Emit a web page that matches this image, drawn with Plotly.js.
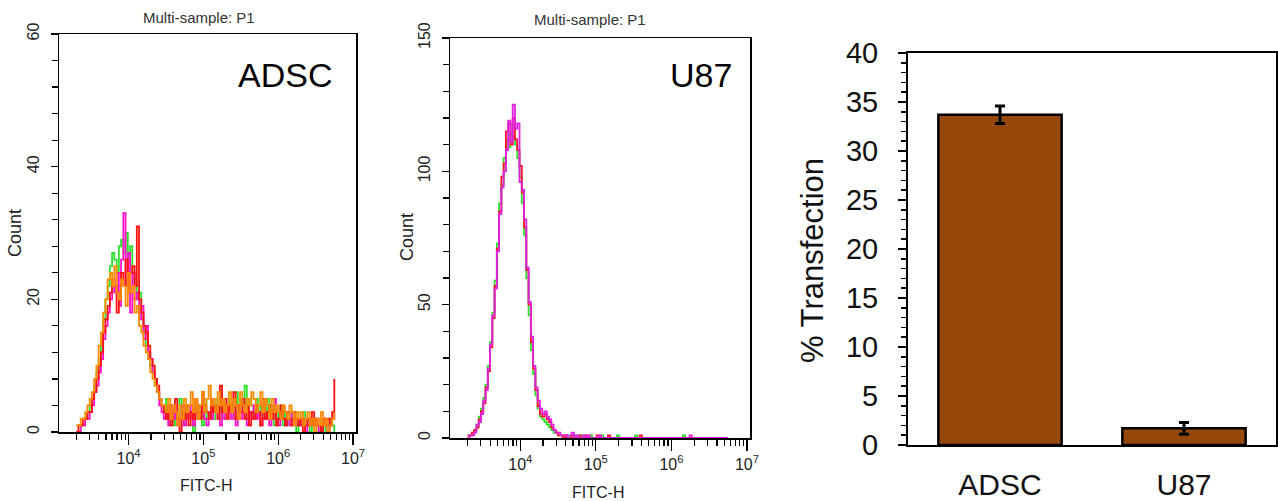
<!DOCTYPE html>
<html>
<head>
<meta charset="utf-8">
<script src="https://cdn.plot.ly/plotly-3.0.1.min.js"></script>
<style>
  html, body { margin: 0; padding: 0; background: #ffffff; }
  #chart { width: 1278px; height: 501px; }
</style>
</head>
<body>
<div id="chart"></div>
<script>
// ---------------- DATA ----------------
// Histogram bins: uniform in log10(FITC-H), starting at 10^3.30, step 0.03 decades
const logBinStart = 3.30;
const logBinStep = 0.03;

// ADSC overlaid sample histograms (counts per bin)
const adscGreen = [
  0,0,1,1,2,3,4,5,7,9, 11,14,17,20,22,25,27,26,24,28, 29,27,30,26,28,24,23,20,21,17, 15,13,12,10,9,7,6,5,4,
  3,5,2,4,1,3,2,5,3,1, 4,2,3,0,2,4,3,1,5,2, 3,4,2,5,3,6,2,4,3,5, 4,2,6,3,5,4,7,3,5,4,
  2,5,3,4,2,3,5,2,4,1, 3,2,4,1,3,2,1,3,2,0, 2,1,3,1,2,0,1,2,1,0, 2,1,0,1,2,1,0
];
const adscMagenta = [
  0,0,1,1,2,2,3,4,6,7, 9,11,14,16,18,20,22,21,24,19, 26,33,22,27,18,24,20,21,17,19, 14,16,12,11,9,8,6,4,3,
  2,3,1,4,2,3,1,2,4,1, 3,2,4,1,3,2,4,3,2,1, 3,2,4,3,2,1,3,2,4,3, 2,3,1,4,2,3,2,1,3,2,
  4,2,3,1,2,3,2,1,3,5, 2,1,3,2,1,2,1,3,2,1, 2,1,2,0,1,2,1,2,1,0, 1,2,1,0,1,2,3
];
const adscRed = [
  0,1,1,2,2,3,3,5,6,8, 10,12,15,17,19,21,23,22,18,20, 24,22,26,21,24,25,22,31,20,18, 16,15,13,11,10,8,7,5,4,
  3,2,4,1,3,5,2,0,3,2, 4,1,3,2,5,3,2,6,4,3, 2,5,3,4,2,7,3,5,2,4, 3,6,2,4,3,5,2,4,1,3,
  2,4,3,1,5,2,3,4,2,3, 1,2,4,2,1,3,2,1,3,2, 1,2,0,1,2,1,3,1,2,1, 0,2,1,2,1,3,8
];
const adscOrange = [
  1,1,2,2,3,4,5,6,8,10, 13,15,18,20,23,24,22,25,21,20, 23,22,19,24,21,22,18,19,16,15, 13,12,11,9,8,7,6,5,4,
  4,3,5,2,4,3,1,4,2,5, 3,4,6,3,5,2,4,6,3,5, 7,4,5,3,6,4,5,3,4,6, 3,5,4,2,6,4,3,5,4,6,
  5,3,4,6,3,5,4,2,5,3, 4,3,2,4,3,2,4,3,1,3, 2,3,1,2,3,1,2,0,2,1, 3,1,2,0,1,2,3
];

// U87 overlaid sample histograms (counts per bin)
const u87Green = [
  0,1,2,3,5,8,11,15,20,27, 36,47,59,73,88,95,105,112,109,114, 113,110,105,98,88,76,60,46,33,24, 16,11,8,7,6,5,4,3,2,2, 1,1,
  1,0,1,0,0,1,0,0,1,0, 0,0,1,0,0,0,0,1,0,0, 0,0,0,0,1,0,0,0,0,0, 0,0,1,0,0,0,0,0,0,0,
  0,0,0,0,0,0,0,0,0,0, 0,0,0,1,0,0,0,0,0,0, 0,0,0,0,0,0,0,0,0,0, 0,0,0,0
];
const u87Red = [
  1,1,2,3,4,7,10,13,19,25, 34,45,57,71,85,98,103,115,118,110, 120,112,108,102,92,79,63,50,36,26, 18,12,9,8,9,7,6,4,3,2, 1,1,
  0,1,0,0,1,0,0,1,0,0, 1,0,0,0,0,1,0,0,0,0, 1,0,0,0,0,0,0,0,0,0, 0,0,0,0,1,0,0,0,0,0,
  0,0,0,0,0,0,0,0,0,0, 0,0,0,0,0,0,0,0,0,0, 0,0,0,0,0,0,0,0,0,0, 0,0,0,0
];
const u87Magenta = [
  0,1,1,2,5,6,9,14,18,26, 35,46,56,70,84,94,100,108,119,111, 125,116,118,96,93,82,64,51,38,27, 19,14,11,9,10,8,7,5,3,2, 2,1,
  1,1,0,1,2,0,1,0,0,1, 0,1,0,0,0,0,1,0,0,0, 0,0,0,0,0,0,0,0,0,0, 0,0,0,0,0,0,0,0,0,0,
  0,0,0,0,0,0,0,0,0,0, 0,0,0,0,0,0,1,0,0,0, 0,0,0,0,0,0,0,0,0,0, 0,0,0,0
];

// Bar chart
const barCategories = ['ADSC', 'U87'];
const barValues = [33.7, 1.7];
const barErrors = [0.9, 0.6];

// Axis tick labels
const decades = [4, 5, 6, 7];
const decadeLabels = ['10<sup>4</sup>', '10<sup>5</sup>', '10<sup>6</sup>', '10<sup>7</sup>'];

// ---------------- BUILD ----------------
const W = 1278, H = 501;
const px = v => v / W;
const py = v => 1 - v / H;

const binX = arr => arr.map((_, i) => Math.pow(10, logBinStart + i * logBinStep));

const narrow = 'Liberation Sans Narrow, Arial Narrow, Arial, sans-serif';
const arial = 'Arial, Liberation Sans, sans-serif';

function histTrace(vals, color, xa, ya) {
  return {
    type: 'scatter', mode: 'lines', x: binX(vals), y: vals,
    xaxis: xa, yaxis: ya, line: { color: color, width: 1.8, shape: 'hv' },
    hoverinfo: 'skip', showlegend: false
  };
}

const minorLogTicks = [];
[3, 4, 5, 6].forEach(d => { for (let k = 2; k <= 9; k++) minorLogTicks.push(k * Math.pow(10, d)); });
const majorLogTicks = decades.map(d => Math.pow(10, d));

const traces = [
  histTrace(adscGreen, '#2ee02e', 'x', 'y'),
  histTrace(adscMagenta, '#ff10c8', 'x', 'y'),
  histTrace(adscRed, '#ff1010', 'x', 'y'),
  histTrace(adscOrange, '#ff8c00', 'x', 'y'),
  histTrace(u87Green, '#2ee02e', 'x2', 'y2'),
  histTrace(u87Red, '#ff1030', 'x2', 'y2'),
  histTrace(u87Magenta, '#e020e0', 'x2', 'y2'),
  {
    type: 'bar', x: barCategories, y: barValues, xaxis: 'x3', yaxis: 'y3',
    width: 0.67,
    marker: { color: '#96470a', line: { color: '#000000', width: 2.5 } },
    error_y: { type: 'data', array: barErrors, visible: true, color: '#000000', thickness: 3, width: 5 },
    hoverinfo: 'skip', showlegend: false
  }
];

function logXAxis(domain, anchor) {
  return {
    domain: domain, anchor: anchor, type: 'log', range: [3.07, 7.04],
    tickmode: 'array', tickvals: majorLogTicks, ticktext: decadeLabels,
    ticks: 'outside', ticklen: 11, tickwidth: 1.2, tickcolor: '#000',
    minor: { tickmode: 'array', tickvals: minorLogTicks, ticks: 'outside', ticklen: 6, tickwidth: 1.2, tickcolor: '#000', showgrid: false },
    showline: true, linecolor: '#000', linewidth: 1.5, mirror: true,
    showgrid: false, zeroline: false,
    tickfont: { family: narrow, size: 16, color: '#222' }
  };
}
function countYAxis(domain, anchor, maxv, dt, mdt) {
  return {
    domain: domain, anchor: anchor, range: [0, maxv], dtick: dt, tick0: 0,
    tickangle: -90, ticks: 'outside', ticklen: 7, tickwidth: 1.2, tickcolor: '#000',
    minor: { dtick: mdt, ticks: 'outside', ticklen: 6, tickwidth: 1.2, tickcolor: '#000', showgrid: false },
    showline: true, linecolor: '#000', linewidth: 1.5, mirror: true,
    showgrid: false, zeroline: false, ticklabelstandoff: 5,
    tickfont: { family: narrow, size: 16, color: '#222' }
  };
}

const layout = {
  width: W, height: H,
  margin: { l: 0, r: 0, t: 0, b: 0 },
  paper_bgcolor: '#ffffff', plot_bgcolor: '#ffffff',
  showlegend: false,
  xaxis: logXAxis([px(59), px(356)], 'y'),
  yaxis: countYAxis([1 - 432 / H, 1 - 34 / H], 'x', 60, 20, 4),
  xaxis2: logXAxis([px(450), px(750)], 'y2'),
  yaxis2: countYAxis([1 - 438 / H, 1 - 38 / H], 'x2', 150, 50, 10),
  xaxis3: {
    domain: [px(908), px(1276)], anchor: 'y3', type: 'category', range: [-0.5, 1.5],
    ticks: '', showline: true, linecolor: '#000', linewidth: 2, mirror: true,
    showgrid: false, zeroline: false, ticklabelstandoff: 12,
    tickfont: { family: arial, size: 30, color: '#111' }
  },
  yaxis3: {
    domain: [1 - 445 / H, 1 - 53 / H], anchor: 'x3', range: [0, 40], dtick: 5, tick0: 0,
    ticks: 'outside', ticklen: 8, tickwidth: 2, tickcolor: '#000',
    minor: { dtick: 1, ticks: 'outside', ticklen: 5, tickwidth: 1.5, tickcolor: '#000', showgrid: false },
    showline: true, linecolor: '#000', linewidth: 2, mirror: true,
    showgrid: false, zeroline: false, ticklabelstandoff: 14,
    tickfont: { family: arial, size: 29, color: '#111' }
  },
  annotations: [
    { text: 'Multi-sample: P1', x: px(199), y: py(17), xref: 'paper', yref: 'paper', showarrow: false, xanchor: 'center', yanchor: 'middle', font: { family: narrow, size: 15, color: '#333' } },
    { text: 'Multi-sample: P1', x: px(590), y: py(19), xref: 'paper', yref: 'paper', showarrow: false, xanchor: 'center', yanchor: 'middle', font: { family: narrow, size: 15, color: '#333' } },
    { text: 'ADSC', x: px(334), y: py(75), xref: 'paper', yref: 'paper', showarrow: false, xanchor: 'right', yanchor: 'middle', font: { family: arial, size: 34, color: '#000' } },
    { text: 'U87', x: px(734), y: py(75), xref: 'paper', yref: 'paper', showarrow: false, xanchor: 'right', yanchor: 'middle', font: { family: arial, size: 34, color: '#000' } },
    { text: 'Count', x: px(15), y: py(233), xref: 'paper', yref: 'paper', showarrow: false, textangle: -90, xanchor: 'center', yanchor: 'middle', font: { family: narrow, size: 18, color: '#222' } },
    { text: 'Count', x: px(407), y: py(237), xref: 'paper', yref: 'paper', showarrow: false, textangle: -90, xanchor: 'center', yanchor: 'middle', font: { family: narrow, size: 18, color: '#222' } },
    { text: 'FITC-H', x: px(206), y: py(485), xref: 'paper', yref: 'paper', showarrow: false, xanchor: 'center', yanchor: 'middle', font: { family: narrow, size: 16, color: '#222' } },
    { text: 'FITC-H', x: px(598), y: py(492), xref: 'paper', yref: 'paper', showarrow: false, xanchor: 'center', yanchor: 'middle', font: { family: narrow, size: 16, color: '#222' } },
    { text: '% Transfection', x: px(812), y: py(260), xref: 'paper', yref: 'paper', showarrow: false, textangle: -90, xanchor: 'center', yanchor: 'middle', font: { family: arial, size: 31, color: '#111' } }
  ]
};

Plotly.newPlot('chart', traces, layout, { staticPlot: true, displayModeBar: false });
</script>
</body>
</html>
